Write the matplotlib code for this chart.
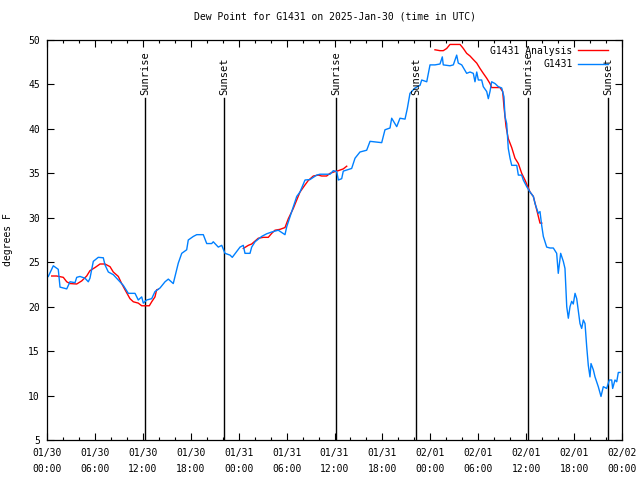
import matplotlib
matplotlib.use("Agg")
import matplotlib.pyplot as plt
from matplotlib.ticker import MultipleLocator

plt.rcParams["font.family"] = ["DejaVu Sans Mono"]
plt.rcParams["font.size"] = 7

# hours since 2025-01-30 00:00 UTC, dew point in F
obs_hours = [
    0.16, 0.79, 1.41, 1.63, 2.47, 2.88, 3.51, 3.72, 4.13, 4.76, 5.17, 5.38, 5.80,
    6.42, 7.05, 7.26, 7.68, 8.30, 8.93, 9.55, 10.18, 11.02, 11.43, 11.86, 12.06,
    12.48, 13.11, 13.52, 14.15, 14.78, 15.19, 15.81, 16.03, 16.44, 16.87, 17.49,
    17.69, 18.32, 18.75, 19.57, 20.00, 20.62, 20.82, 21.45, 21.88, 22.29, 22.92,
    23.20, 24.17, 24.58, 24.79, 25.42, 25.63, 26.05, 26.88, 27.51, 28.14, 28.96,
    29.80, 30.02, 30.64, 31.27, 31.68, 32.31, 32.93, 33.77, 34.18, 35.44, 35.85,
    36.28, 36.48, 36.90, 37.10, 38.15, 38.57, 39.19, 40.03, 40.45, 41.91, 42.32,
    42.95, 43.16, 43.79, 44.20, 44.83, 45.12, 45.45, 46.08, 46.71, 46.92, 47.55,
    47.96, 48.58, 49.21, 49.50, 49.62, 50.46, 50.88, 51.30, 51.50, 51.93, 52.55,
    52.97, 53.38, 53.59, 53.81, 54.01, 54.43, 54.63, 55.06, 55.26, 55.47, 55.68,
    56.10, 56.51, 56.94, 57.22, 57.35, 57.56, 57.76, 57.98, 58.19, 58.82, 59.02,
    59.44, 59.64, 60.07, 60.48, 60.90, 61.11, 61.52, 61.73, 61.95, 62.15, 62.57,
    62.99, 63.40, 63.82, 64.02, 64.32, 64.65, 64.86, 65.08, 65.28, 65.49, 65.70,
    65.90, 66.12, 66.33, 66.74, 66.95, 67.16, 67.37, 67.58, 67.78, 67.99, 68.12,
    68.41, 68.62, 69.03, 69.37, 69.66, 70.08, 70.41, 70.71, 70.83, 71.12, 71.34,
    71.54, 71.75,
]
obs_dewpt = [
    23.4, 24.6, 24.2, 22.2, 22.0, 22.8, 22.7, 23.3, 23.4, 23.2, 22.8, 23.2, 25.1,
    25.55, 25.5, 24.7, 23.9, 23.6, 23.0, 22.4, 21.5, 21.5, 20.75, 21.1, 20.4,
    20.75, 20.9, 21.7, 22.1, 22.8, 23.1, 22.6, 23.4, 24.9, 26.0, 26.4,
    27.5, 27.9, 28.1, 28.1, 27.1, 27.1, 27.3, 26.7, 26.9, 26.0, 25.8,
    25.55, 26.7, 26.9, 26.0, 26.0, 26.7, 27.3, 27.9, 28.2, 28.4, 28.6,
    28.1, 29.0, 30.7, 32.4, 32.9, 34.25, 34.3, 34.8, 34.9, 34.9, 35.3,
    35.2, 34.25, 34.4, 35.25, 35.55, 36.7, 37.4, 37.6, 38.6, 38.45, 39.9,
    40.1, 41.2, 40.25, 41.2, 41.1, 42.3, 44.0, 44.6, 44.9, 45.5, 45.3,
    47.2, 47.2, 47.3, 48.1, 47.2, 47.1, 47.2, 48.3, 47.4, 47.2, 46.25,
    46.4, 46.25, 45.3, 46.4, 45.5, 45.5, 44.75, 44.2, 43.4, 44.2, 45.3,
    45.1, 44.75, 44.6, 43.6, 41.4, 40.6, 37.8, 36.7, 35.9, 35.9, 34.8,
    34.8, 34.25, 33.5, 32.9, 32.4, 31.6, 30.5, 30.7, 29.1, 27.9, 26.7,
    26.6, 26.6, 26.0, 23.75, 26.0, 25.1, 24.3, 20.0, 18.7, 20.0, 20.6,
    20.3, 21.5, 20.9, 18.1, 17.55, 18.5, 18.1, 15.5, 13.4, 12.1, 13.6,
    12.9, 12.1, 11.0, 9.9, 11.0, 10.8, 11.75, 11.75, 10.8, 11.75, 11.55,
    12.6, 12.6,
]

# analysis series comes in three separate pieces
ana1_hours = [0.59, 1.21, 2.04, 2.47, 2.88, 3.72, 4.35, 4.97, 5.38, 6.01, 6.64,
              7.26, 7.89, 8.30, 8.93, 9.35, 9.77, 10.39, 10.81, 11.43, 11.86,
              12.81, 13.11, 13.52, 13.73, 13.94]
ana1_dewpt = [23.45, 23.45, 23.3, 22.8, 22.6, 22.55, 22.9, 23.45, 24.05, 24.4, 24.8,
              24.8, 24.5, 23.9, 23.4, 22.6, 21.9, 20.9, 20.55, 20.4, 20.1,
              20.1, 20.55, 21.1, 21.9, 21.95]
ana2_hours = [24.58, 25.21, 25.63, 26.46, 27.09, 27.71, 28.14, 28.55, 29.18, 29.80,
              30.22, 30.84, 31.27, 31.68, 32.31, 32.72, 33.35, 33.97, 34.40, 35.02,
              35.44, 36.06, 36.48, 37.10, 37.53]
ana2_dewpt = [26.55, 26.9, 27.05, 27.7, 27.8, 27.8, 28.25, 28.6, 28.7, 28.9,
              29.9, 31.05, 32.0, 32.9, 33.7, 34.2, 34.7, 34.8, 34.7, 34.7,
              35.0, 35.2, 35.3, 35.5, 35.8]
ana3_hours = [48.58, 49.21, 49.62, 50.05, 50.46, 51.72, 52.13, 52.55, 52.97, 53.38,
              53.81, 54.22, 54.63, 55.06, 55.47, 55.68, 56.72, 57.06, 57.22, 57.48,
              57.76, 58.19, 58.60, 59.02, 59.44, 59.85, 60.48, 60.90, 61.32, 61.73,
              61.95]
ana3_dewpt = [48.9, 48.8, 48.8, 49.05, 49.5, 49.5, 49.05, 48.5, 48.2, 47.8,
              47.4, 46.8, 46.25, 45.7, 45.1, 44.65, 44.65, 44.2, 42.5, 40.25,
              38.9, 37.9, 36.7, 36.1, 35.0, 34.25, 32.9, 32.4, 30.9, 29.4,
              29.4]

sun_hours = [12.27, 22.16, 36.19, 46.21, 60.23, 70.25]
sun_labels = ["Sunrise", "Sunset", "Sunrise", "Sunset", "Sunrise", "Sunset"]

tick_hours = list(range(0, 73, 6))
tick_labels = [
    "01/30\n00:00", "01/30\n06:00", "01/30\n12:00", "01/30\n18:00",
    "01/31\n00:00", "01/31\n06:00", "01/31\n12:00", "01/31\n18:00",
    "02/01\n00:00", "02/01\n06:00", "02/01\n12:00", "02/01\n18:00",
    "02/02\n00:00",
]

fig = plt.figure(figsize=(6.4, 4.8), dpi=100)
ax = fig.add_axes([47 / 640, 40 / 480, 575 / 640, 400 / 480])

for h, lab in zip(sun_hours, sun_labels):
    ax.plot([h, h], [5, 43.5], color="black", lw=1.0)
    ax.text(h, 43.8, lab, rotation=90, ha="center", va="bottom", fontsize=7.5)

red = "#ff0000"
blue = "#0080ff"
ax.plot(ana1_hours, ana1_dewpt, color=red, lw=1.0, label="G1431 Analysis")
ax.plot(ana2_hours, ana2_dewpt, color=red, lw=1.0)
ax.plot(ana3_hours, ana3_dewpt, color=red, lw=1.0)
ax.plot(obs_hours, obs_dewpt, color=blue, lw=1.0, label="G1431")

ax.set_xlim(0, 72)
ax.set_ylim(5, 50)
ax.set_xticks(tick_hours)
ax.set_xticklabels(tick_labels, linespacing=1.75)
ax.xaxis.set_minor_locator(MultipleLocator(2))
ax.set_yticks(range(5, 51, 5))
ax.tick_params(which="both", direction="in", top=True, right=True, width=0.8)
ax.tick_params(which="major", length=5)
ax.tick_params(axis="x", which="major", pad=6)
ax.tick_params(axis="y", which="major", pad=5)
ax.tick_params(which="minor", length=2.5)
for s in ax.spines.values():
    s.set_linewidth(0.9)

ax.set_title("Dew Point for G1431 on 2025-Jan-30 (time in UTC)", fontsize=7, pad=15)
ax.set_ylabel("degrees F", labelpad=11)

ax.legend(loc="upper right", bbox_to_anchor=(0.985, 1.0), frameon=False,
          markerfirst=False, handlelength=3.0, handletextpad=0.6,
          labelspacing=0.35, borderaxespad=0.2)

fig.savefig("out.png", dpi=100)
